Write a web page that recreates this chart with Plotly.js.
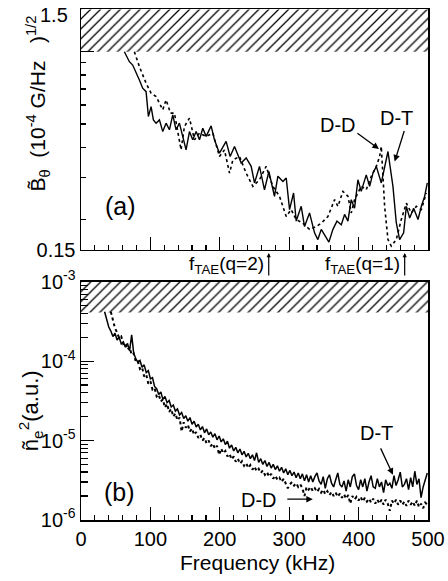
<!DOCTYPE html>
<html><head><meta charset="utf-8">
<script src="https://cdn.plot.ly/plotly-3.0.1.min.js"></script>
<style>html,body{margin:0;padding:0;background:#fff}#chart{width:448px;height:581px}</style>
</head><body><div id="chart"></div>
<script>
// ---------- Panel (a): magnetic fluctuation spectrum ----------
var fA_dt = [62.5,69.7,74.5,79.3,84.1,88.9,93.8,97.1,101,104.3,108.2,113,117.8,122.6,127.4,132.2,137,141.8,149,151.4,156.3,161,165.9,170.7,175.5,180.3,187.5,192.3,199.5,204.3,209.1,214.9,221.2,226,230.8,238,245.2,250,257.2,264.4,270.7,278.8,283.7,290.9,295.7,300.5,306.3,310.1,317.3,322.1,329.3,336.5,341.3,346.2,351,357.2,363,368.8,375,379.8,384.6,389.4,394.2,399,403.8,411,415.9,420.7,425.5,432.7,442.3,449.5,454.3,459.1,464.9,468.8,473.6,479.3,485.6,490.4,495.2,499];
var vA_dt = [1.0,0.909,0.880,0.826,0.763,0.705,0.682,0.537,0.591,0.520,0.504,0.520,0.465,0.504,0.473,0.546,0.473,0.504,0.416,0.390,0.465,0.430,0.465,0.430,0.480,0.444,0.491,0.430,0.378,0.403,0.423,0.366,0.403,0.372,0.344,0.361,0.333,0.284,0.333,0.266,0.317,0.250,0.303,0.288,0.298,0.220,0.258,0.197,0.227,0.187,0.213,0.176,0.165,0.182,0.173,0.161,0.182,0.197,0.190,0.210,0.197,0.242,0.223,0.293,0.262,0.307,0.275,0.312,0.333,0.284,0.384,0.275,0.194,0.165,0.176,0.227,0.203,0.223,0.200,0.227,0.250,0.284];
var fA_dd = [76.9,84.1,93.8,101,108.2,117.8,122.6,129,134.6,144.2,149,156.3,163.5,170.7,180.3,190,199.5,206.7,214,218.8,228.4,238,247.6,257.2,266.8,276.4,286,295.7,302.9,310,319.7,329.3,338.9,346.2,355.8,365.4,370.2,377.4,384.6,389.4,394.2,403.8,411,418.3,425.5,430.3,432.7,437.5,442.3,447.1,454.3,461.5,468.8,476,483.2,490.4,497.6];
var vA_dd = [1.0,0.867,0.739,0.672,0.651,0.573,0.630,0.555,0.555,0.390,0.488,0.529,0.430,0.458,0.444,0.458,0.366,0.390,0.312,0.354,0.366,0.312,0.275,0.293,0.333,0.275,0.250,0.206,0.220,0.200,0.193,0.182,0.187,0.193,0.206,0.242,0.227,0.262,0.250,0.213,0.242,0.275,0.266,0.303,0.333,0.366,0.403,0.227,0.165,0.155,0.165,0.200,0.234,0.213,0.227,0.220,0.258];
var limitA = [1.0, 1.5];          // hatched (unmeasurable) band, panel a
var fTAE = [270.5, 466.4];        // f_TAE(q=2), f_TAE(q=1) in kHz

// ---------- Panel (b): density fluctuation spectrum (values in units of 1e-6) ----------
var fB_dt = [34,37,40,43,46,49,52,55,58,61,64,67,70,73,76,79,82,85,88,91,94,97,100,103,106,109,112,115,118,121,124,127,130,133,136,139,142,145,148,151,154,157,160,163,166,169,172,175,178,181,184,187,190,193,196,199,202,205,208,211,214,217,220,223,226,229,232,235,238,241,244,247,250,253,256,259,262,265,268,271,274,277,280,283,286,289,292,295,298,301,304,307,310,313,316,319,322,325,328,331,334,337,340,343,346,349,352,355,358,361,364,367,370,373,376,379,382,385,388,391,394,397,400,403,406,409,412,415,418,421,424,427,430,433,436,439,442,445,448,451,454,457,460,463,466,469,472,475,478,481,484,487,490,493,496,499];
var vB_dt = [420,330,270,240,205,225,185,200,165,175,
150,168,135,215,125,108,96,102,84,90,
72,76,60,62,48,45,38,41,33,36,
30,32,26.5,28,23.5,25,21,22.5,19,20.5,
17.5,19.5,16,17.5,14.8,16,13.6,15,12.5,14,
11.8,12.8,11,12.2,10.2,11.4,9.6,10.5,8.9,9.8,
8.0,8.8,7.4,8.2,7.0,7.8,6.6,7.3,6.2,6.9,
5.9,6.6,5.6,7.0,5.3,5.9,5.0,5.6,4.7,5.3,
4.5,5.0,4.3,4.8,4.1,4.6,3.9,4.4,3.7,4.2,
3.6,4.0,3.4,3.9,3.3,3.8,3.1,3.7,3.0,3.6,
3.0,3.5,3.9,3.1,2.8,3.5,2.5,3.3,3.7,2.9,
2.6,3.2,3.9,2.8,2.6,3.1,2.3,3.2,2.6,3.5,
3.8,2.7,2.4,3.2,2.6,3.3,2.3,3.0,3.6,2.6,
2.5,3.3,2.6,3.0,2.2,3.2,2.7,2.9,2.5,3.6,
2.7,3.2,4.0,2.6,2.8,3.3,2.4,3.4,2.6,4.1,
2.8,3.3,1.9,2.6,3.2,3.9];
var fB_dd = [43,46,49,52,55,58,61,64,67,70,73,76,79,82,85,88,91,94,97,100,103,106,109,112,115,118,121,124,127,130,133,136,139,142,145,148,151,154,157,160,163,166,169,172,175,178,181,184,187,190,193,196,199,202,205,208,211,214,217,220,223,226,229,232,235,238,241,244,247,250,253,256,259,262,265,268,271,274,277,280,283,286,289,292,295,298,301,304,307,310,313,316,319,322,325,328,331,334,337,340,343,346,349,352,355,358,361,364,367,370,373,376,379,382,385,388,391,394,397,400,403,406,409,412,415,418,421,424,427,430,433,436,439,442,445,448,451,454,457,460,463,466,469,472,475,478,481,484,487,490,493,496,499];
var vB_dd = [420,330,260,230,195,205,165,170,140,150,
120,125,98,100,80,84,64,68,52,56,
44,46,36,38,31,33,26,29,23,25,
20,22,18,19.5,13,17,14.5,15.8,13,14.2,
11.8,12.8,10.8,11.8,10,10.8,9.2,10,8.5,9.2,
7.9,8.6,6.6,7.9,6.9,7.4,6.3,6.8,5.8,6.3,
5.4,5.9,5.1,5.5,4.8,5.2,4.5,4.9,4.3,4.7,
4.1,4.4,3.9,4.2,3.7,4.0,3.5,3.8,3.3,3.6,
3.2,3.4,3.0,3.3,2.9,2.5,2.8,3.0,2.7,2.9,
2.6,2.8,2.5,2.0,2.6,2.4,2.6,2.3,2.5,2.25,
2.45,2.2,2.4,2.1,2.3,2.05,2.25,2.0,2.2,1.95,
2.15,1.9,2.1,1.85,2.05,1.6,2.0,1.8,1.95,1.75,
1.95,1.7,1.9,1.7,1.85,1.65,1.85,1.6,1.8,1.6,
1.8,1.55,1.8,1.6,1.3,1.75,1.6,1.8,1.55,1.75,
1.55,1.7,1.5,1.75,1.55,1.7,1.5,1.75,1.45,1.6,
1.4,1.65,1.55];
var limitB = [4.1e-4, 1e-3];      // hatched band, panel b
var fRange = [0, 500];
var yTicksB = [1e-6, 1e-5, 1e-4, 1e-3];
var yTickTextB = ['10<sup>-6</sup>','10<sup>-5</sup>','10<sup>-4</sup>','10<sup>-3</sup>'];

var micro = function(a){ return a.map(function(v){ return v*1e-6; }); };

var FONT = 'Liberation Sans, Arial, Helvetica, sans-serif';
var hatch = {shape:'/', size:7, solidity:0.18, fgcolor:'#000', bgcolor:'#fff'};

function band(lim, xa, ya){
  return {x:[fRange[0],fRange[1],fRange[1],fRange[0]], y:[lim[0],lim[0],lim[1],lim[1]],
    xaxis:xa, yaxis:ya, mode:'lines', fill:'toself', fillcolor:'#fff', fillpattern:hatch,
    line:{width:0}, hoverinfo:'skip', showlegend:false};
}

var traces = [
  band(limitA,'x','y'),
  {x:fA_dd, y:vA_dd, xaxis:'x', yaxis:'y', mode:'lines', line:{color:'#000', width:1.6, dash:'dot'}},
  {x:fA_dt, y:vA_dt, xaxis:'x', yaxis:'y', mode:'lines', line:{color:'#000', width:1.4}},
  band(limitB,'x2','y2'),
  {x:fB_dd, y:micro(vB_dd), xaxis:'x2', yaxis:'y2', mode:'lines', line:{color:'#000', width:2, dash:'dot'}},
  {x:fB_dt, y:micro(vB_dt), xaxis:'x2', yaxis:'y2', mode:'lines', line:{color:'#000', width:1.5}}
];

var axLine = {showline:true, linecolor:'#000', linewidth:1.5, mirror:true, showgrid:false, zeroline:false};
var tf = {family:FONT, size:20, color:'#000'};

function xax(extra){
  return Object.assign({}, axLine, {range:fRange, tickmode:'linear', tick0:0, dtick:100, ticks:'inside',
    ticklen:13, tickwidth:1.2, tickcolor:'#000', tickfont:tf, ticklabeloverflow:'allow',
    minor:{tickmode:'linear', tick0:0, dtick:20, ticks:'inside', ticklen:5, tickwidth:1.2, tickcolor:'#000'}}, extra);
}

var ann = [];
function txt(xr, yr, x, y, s, size, extra){
  ann.push(Object.assign({xref:xr, yref:yr, x:x, y:y, text:s, showarrow:false,
    xanchor:'center', yanchor:'middle',
    font:{family:FONT, size:size, color:'#000'}}, extra||{}));
}
function arr(xr, yr, x, y, ax, ay, extra){
  ann.push(Object.assign({xref:xr, yref:yr, x:x, y:y, text:'', showarrow:true, ax:ax, ay:ay,
    arrowhead:2, arrowsize:1, arrowwidth:1.3, arrowcolor:'#000'}, extra||{}));
}

// top tick label of panel (a), placed a little below the axis top as in the original
txt('paper','paper',-0.032,0.988,'1.5',20,{xanchor:'right'});
// panel (a) annotations
txt('x','y',56.8,Math.log10(0.227),'(a)',25);
txt('x','y',371,Math.log10(0.497),'D-D',20);
txt('x','y',454,Math.log10(0.529),'D-T',20);
arr('x','y',429.3,Math.log10(0.393),-23,-17);
arr('x','y',452,Math.log10(0.349),10,-32);
txt('x','paper',fTAE[0]-4.5,0.499,'f<sub>TAE</sub>(q=2)',19,{xanchor:'right'});
txt('x','paper',fTAE[1]-4.5,0.499,'f<sub>TAE</sub>(q=1)',19,{xanchor:'right'});
arr('x','paper',fTAE[0],0.5225,0,24,{arrowsize:0.7,arrowwidth:1.2});
arr('x','paper',fTAE[1],0.5225,0,24,{arrowsize:0.7,arrowwidth:1.2});
// y titles
txt('paper','paper',-0.124,0.815,'B\u0303<sub>\u03b8</sub>  (10<sup>-4</sup> G/Hz   )<sup>1/2</sup>',21,{textangle:-90});
txt('paper','paper',-0.147,0.215,'n\u0303<sub>e</sub><sup>2</sup>(a.u.)',22,{textangle:-90});
// panel (b) annotations
txt('x2','y2',54.9,-5.644,'(b)',25);
txt('x2','y2',425.5,-4.908,'D-T',20);
arr('x2','y2',449.5,-5.433,-13,-28);
txt('x2','y2',257,-5.748,'D-D',20);
arr('x2','y2',334,-5.739,-27,0);
// x title
txt('paper','paper',0.51,-0.084,'Frequency (kHz)',21);

var layout = {
  width:448, height:581, margin:{l:81, r:20, t:9, b:61},
  paper_bgcolor:'#fff', plot_bgcolor:'#fff', showlegend:false,
  font:{family:FONT, color:'#000'},
  xaxis: xax({domain:[0,1], anchor:'y', showticklabels:false}),
  yaxis: Object.assign({}, axLine, {type:'log', domain:[0.5284,1], anchor:'x',
    range:[Math.log10(0.15)-0.002, Math.log10(1.5)+0.002], tickmode:'array', tickvals:[0.15,1.0,1.5], ticktext:['0.15','',''],
    ticks:'inside', ticklen:13, tickwidth:1.2, tickcolor:'#000', tickfont:tf, ticklabeloverflow:'allow',
    minor:{tickmode:'array', tickvals:[0.2,0.3,0.4,0.5,0.6,0.7,0.8,0.9], ticks:'inside', ticklen:5, tickwidth:1.2, tickcolor:'#000'}}),
  xaxis2: xax({domain:[0,1], anchor:'y2', showticklabels:true}),
  yaxis2: Object.assign({}, axLine, {type:'log', domain:[0,0.4663], anchor:'x2',
    range:[-6.002,-2.998], tickmode:'array', tickvals:yTicksB, ticktext:yTickTextB,
    ticks:'inside', ticklen:13, tickwidth:1.2, tickcolor:'#000', tickfont:tf, ticklabeloverflow:'allow',
    minor:{tickmode:'array', tickvals:[2e-6,3e-6,4e-6,5e-6,6e-6,7e-6,8e-6,9e-6,2e-5,3e-5,4e-5,5e-5,6e-5,7e-5,8e-5,9e-5,2e-4,3e-4,4e-4,5e-4,6e-4,7e-4,8e-4,9e-4],
      ticks:'inside', ticklen:7, tickwidth:1.2, tickcolor:'#000'}}),
  annotations: ann
};

Plotly.newPlot('chart', traces, layout, {displayModeBar:false, staticPlot:true});
</script></body></html>
